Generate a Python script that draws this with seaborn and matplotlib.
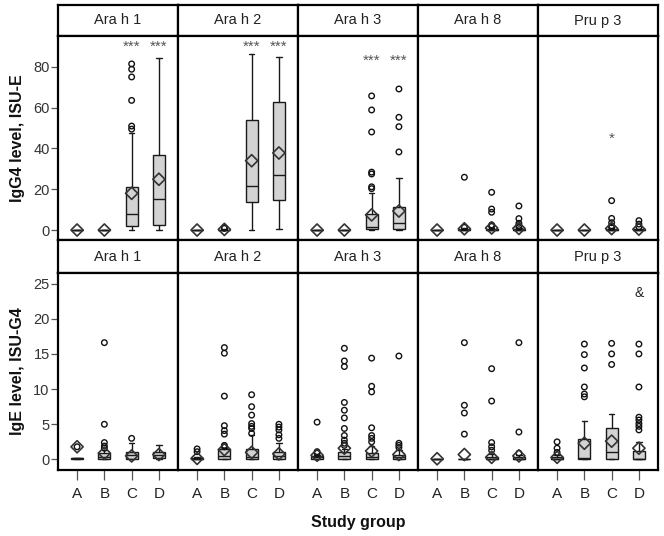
import numpy as np
import pandas as pd
import matplotlib
matplotlib.use("Agg")
import matplotlib.pyplot as plt
import seaborn as sns

sns.set_theme(style="white")
plt.rcParams['font.family'] = ['Liberation Sans', 'DejaVu Sans']

allergens = ["Ara h 1", "Ara h 2", "Ara h 3", "Ara h 8", "Pru p 3"]
groups = ["A", "B", "C", "D"]

# ---- IgG4 (top row) : box statistics per allergen x group ----
igg4_q1 = [[0, 0, 2.0, 2.5], [0, 0, 13.7, 14.9], [0, 0, 0.3, 0.3], [0, 0, 0, 0], [0, 0, 0, 0]]
igg4_med = [[0, 0, 7.9, 15.1], [0, 0, 21.8, 26.8], [0, 0, 1.6, 3.6], [0, 0.1, 0.1, 0.1], [0, 0, 0.1, 0.1]]
igg4_q3 = [[0, 0, 21.3, 36.6], [0, 0.2, 54.0, 62.7], [0, 0, 7.8, 11.5], [0, 0.4, 0.5, 0.5], [0, 0, 0.3, 0.3]]
igg4_wlo = [[0, 0, 0, 0], [0, 0, 0, 0.5], [0, 0, 0, 0], [0, 0, 0, 0], [0, 0, 0, 0]]
igg4_whi = [[0, 0, 47.4, 84.2], [0, 0.3, 86.4, 85.1], [0, 0, 18.0, 25.4], [0, 1.0, 1.2, 1.0], [0, 0, 0.8, 0.6]]
igg4_mean = [[0, 0, 18.0, 24.9], [0, 0.3, 34.0, 37.8], [0, 0, 7.4, 9.3], [0, 0.6, 1.0, 0.8], [0, 0, 0.7, 0.4]]
igg4_fliers = [
    [[], [], [49.5, 51.0, 63.6, 75.1, 78.9, 81.5], []],
    [[], [0.8, 1.2], [], []],
    [[], [], [20.3, 21.2, 27.5, 28.4, 48.1, 58.9, 65.8], [38.3, 50.7, 55.3, 69.2]],
    [[], [1.3, 25.9], [1.8, 2.5, 8.7, 10.3, 18.5], [1.5, 2.2, 3.3, 5.6, 11.8]],
    [[], [], [1.3, 2.0, 3.6, 5.7, 14.4], [1.5, 2.9, 4.6]],
]

# ---- IgE (bottom row) ----
ige_q1 = [[0.05, 0.05, 0.1, 0.2], [0.05, 0.1, 0, 0.1], [0.1, 0.05, 0, 0.05], [0, 0, 0, 0], [0, 0, 0.1, 0]]
ige_med = [[0.15, 0.3, 0.6, 0.6], [0.1, 0.5, 0.4, 0.5], [0.3, 0.5, 0.3, 0.3], [0, 0, 0, 0], [0.1, 0.15, 1.0, 0.1]]
ige_q3 = [[0.25, 0.9, 1.1, 1.1], [0.2, 1.5, 1.5, 1.1], [0.5, 1.1, 0.9, 0.7], [0.1, 0.05, 0.3, 0.3], [0.3, 2.85, 4.5, 1.2]]
ige_wlo = [[0.05, 0, 0, 0], [0, 0, 0, 0], [0, 0, 0, 0], [0, 0, 0, 0], [0, 0, 0, 0]]
ige_whi = [[0.25, 1.4, 2.3, 2.1], [0.3, 1.6, 3.5, 2.3], [0.7, 1.5, 1.9, 1.3], [0.1, 0.1, 0.8, 0.7], [0.6, 5.4, 6.4, 2.5]]
ige_mean = [[1.8, 0.9, 0.5, 0.7], [0.15, 1.4, 1.0, 0.8], [0.6, 1.6, 1.2, 0.7], [0.1, 0.7, 0.3, 0.5], [0.3, 2.3, 2.6, 1.6]]
ige_fliers = [
    [[1.8], [1.6, 1.9, 2.4, 5.0, 16.6], [3.0], []],
    [[1.1, 1.5], [1.8, 2.0, 3.6, 4.1, 4.8, 9.0, 15.1, 15.9], [3.7, 4.4, 4.7, 5.1, 6.3, 7.5, 9.2], [3.0, 3.5, 4.2, 4.6, 5.0]],
    [[0.9, 1.1, 5.3], [2.0, 2.3, 2.75, 3.4, 4.4, 5.9, 7.0, 8.1, 13.2, 14.0, 15.8], [2.5, 3.0, 3.4, 4.5, 9.6, 10.4, 14.4], [1.7, 2.0, 2.3, 14.7]],
    [[], [3.6, 6.6, 7.7, 16.6], [1.3, 1.8, 2.4, 8.3, 12.9], [0.9, 3.9, 16.6]],
    [[1.0, 1.6, 2.5], [8.9, 9.3, 10.3, 13.0, 14.9, 16.4], [13.5, 15.0, 16.5], [4.2, 4.7, 5.1, 5.6, 6.0, 10.3, 15.0, 16.4]],
]

# significance marks: (allergen index, group, y value, label)
igg4_marks = [(0, "C", 90.0, "***"), (0, "D", 90.0, "***"),
              (1, "C", 90.0, "***"), (1, "D", 90.0, "***"),
              (2, "C", 83.2, "***"), (2, "D", 83.2, "***"),
              (4, "C", 45.0, "*")]
ige_marks = [(4, "D", 23.7, "&")]

igg4_ticks = [0, 20, 40, 60, 80]
ige_ticks = [0, 5, 10, 15, 20, 25]

W, H = 664, 536
fig = plt.figure(figsize=(W / 100, H / 100), dpi=100)


def ax_px(x0, y0, x1, y1):
    return fig.add_axes([x0 / W, 1 - y1 / H, (x1 - x0) / W, (y1 - y0) / H])


col_x = [58, 178, 298, 418, 538, 658]
rows = [
    dict(strip=(5, 36), panel=(36, 240), ylim=(-4.9, 95.2), ticks=igg4_ticks,
         q1=igg4_q1, med=igg4_med, q3=igg4_q3, wlo=igg4_wlo, whi=igg4_whi,
         mean=igg4_mean, fliers=igg4_fliers, marks=igg4_marks,
         ylabel="IgG4 level, ISU-E"),
    dict(strip=(240, 273), panel=(273, 470), ylim=(-1.5, 26.5), ticks=ige_ticks,
         q1=ige_q1, med=ige_med, q3=ige_q3, wlo=ige_wlo, whi=ige_whi,
         mean=ige_mean, fliers=ige_fliers, marks=ige_marks,
         ylabel="IgE level, ISU-G4"),
]

box_fc = "#d3d3d3"
line_c = "#1a1a1a"
spine_lw = 1.6

for r, row in enumerate(rows):
    for c, name in enumerate(allergens):
        # strip header
        sax = ax_px(col_x[c], row["strip"][0], col_x[c + 1], row["strip"][1])
        sax.set_xticks([]); sax.set_yticks([])
        for s in sax.spines.values():
            s.set_color("black"); s.set_linewidth(spine_lw)
        sax.text(0.5, 0.5, name, ha="center", va="center", fontsize=10.5,
                 color="#222222", transform=sax.transAxes)

        ax = ax_px(col_x[c], row["panel"][0], col_x[c + 1], row["panel"][1])
        stats = []
        for g in range(len(groups)):
            stats.append(dict(q1=row["q1"][c][g], med=row["med"][c][g], q3=row["q3"][c][g],
                              whislo=row["wlo"][c][g], whishi=row["whi"][c][g],
                              mean=row["mean"][c][g], fliers=[]))
        ax.bxp(stats, positions=range(len(groups)), widths=0.44, showfliers=False,
               showmeans=False, patch_artist=True, capwidths=0.2,
               boxprops=dict(facecolor=box_fc, edgecolor=line_c, linewidth=1.0),
               medianprops=dict(color=line_c, linewidth=1.0),
               whiskerprops=dict(color=line_c, linewidth=1.0),
               capprops=dict(color=line_c, linewidth=1.0))

        fl = pd.DataFrame([(groups[g], v) for g in range(len(groups)) for v in row["fliers"][c][g]],
                          columns=["group", "value"])
        if len(fl):
            sns.stripplot(data=fl, x="group", y="value", order=groups, jitter=False, ax=ax,
                          marker="o", size=4.0, facecolor="none", edgecolor="#111111",
                          linewidth=1.0, zorder=4)
        mn = pd.DataFrame({"group": groups, "value": row["mean"][c]})
        sns.stripplot(data=mn, x="group", y="value", order=groups, jitter=False, ax=ax,
                      marker="D", size=6.2, facecolor="none", edgecolor="#333333",
                      linewidth=1.2, zorder=5)

        for (ci, g, yv, lab) in row["marks"]:
            if ci == c:
                ax.text(groups.index(g), yv, lab, ha="center", va="center",
                        fontsize=11 if lab != "&" else 10,
                        color="#555555" if lab != "&" else "#222222")

        ax.set_xlim(-0.7, 3.7)
        ax.set_ylim(*row["ylim"])
        ax.set_xlabel(""); ax.set_ylabel("")
        for s in ax.spines.values():
            s.set_color("black"); s.set_linewidth(spine_lw)
        ax.set_yticks(row["ticks"])
        if c == 0:
            ax.tick_params(axis="y", left=True, length=5, width=0.9, color="#555555",
                           labelsize=10.5, labelcolor="#333333", pad=1)
        else:
            ax.tick_params(axis="y", left=False, labelleft=False)
        ax.set_xticks(range(len(groups)))
        if r == 1:
            ax.set_xticklabels(groups)
            ax.tick_params(axis="x", bottom=True, length=7, width=0.9, color="#555555",
                           labelsize=11, labelcolor="#222222", pad=5)
        else:
            ax.tick_params(axis="x", bottom=False, labelbottom=False)

    yc = (row["panel"][0] + row["panel"][1]) / 2
    fig.text(18 / W, 1 - yc / H, row["ylabel"], rotation=90, ha="center", va="center",
             fontsize=11.5, fontweight="bold", color="#111111")

fig.text(((col_x[0] + col_x[-1]) / 2) / W, 1 - 522 / H, "Study group", ha="center",
         va="center", fontsize=11.5, fontweight="bold", color="#111111")

fig.savefig("out.png", dpi=100, facecolor="white")
